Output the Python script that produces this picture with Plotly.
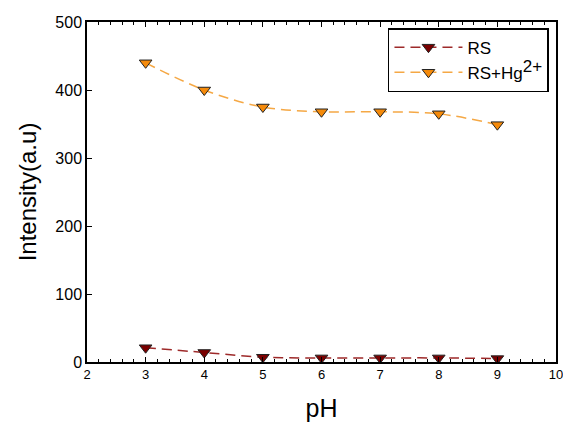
import plotly.graph_objects as go

ph = [3, 4, 5, 6, 7, 8, 9]
rs = [21, 14, 7, 6, 6, 6, 5]
rs_hg = [440, 400, 375, 368, 368, 365, 349]

x_ticks = [2, 3, 4, 5, 6, 7, 8, 9, 10]
y_ticks = [0, 100, 200, 300, 400, 500]

FONT = "Liberation Sans, Arial, sans-serif"

fig = go.Figure()
fig.add_trace(go.Scatter(
    x=ph, y=rs, name="RS", mode="lines+markers",
    line=dict(color="#9e2a2a", width=1.5, dash="10px,6px", shape="spline"),
    marker=dict(symbol="triangle-down", size=11, color="#7a0000",
                line=dict(color="#222222", width=1)),
))
fig.add_trace(go.Scatter(
    x=ph, y=rs_hg,
    name="RS+Hg<sup><span style='font-size:17px'>2+</span></sup>",
    mode="lines+markers",
    line=dict(color="#f5a845", width=1.5, dash="10px,6px", shape="spline"),
    marker=dict(symbol="triangle-down", size=11, color="#f58a0a",
                line=dict(color="#222222", width=1)),
))

fig.update_layout(
    width=563, height=429,
    margin=dict(l=87, r=7, t=22, b=67, autoexpand=False),
    paper_bgcolor="white", plot_bgcolor="white",
    font=dict(family=FONT, color="black"),
    showlegend=True,
    legend=dict(
        x=0.985, y=0.982, xanchor="right", yanchor="top",
        bordercolor="black", borderwidth=1.5, bgcolor="white",
        font=dict(size=17, family=FONT), itemwidth=68,
        tracegroupgap=6,
    ),
    xaxis=dict(
        range=[2, 10], tickvals=x_ticks, ticktext=[str(v) for v in x_ticks],
        showgrid=False, zeroline=False, automargin=False,
        ticklabeloverflow="allow",
        showline=True, linecolor="black", linewidth=1.5, mirror="ticks",
        ticks="inside", ticklen=5, tickcolor="black", tickwidth=1,
        tickfont=dict(size=13, family=FONT),
        minor=dict(dtick=0.2, ticks="inside", ticklen=3, tickcolor="black", tickwidth=1, showgrid=False),
        title=dict(text="pH", font=dict(size=25, family=FONT), standoff=18),
    ),
    yaxis=dict(
        range=[0, 500], tickvals=y_ticks, ticktext=[str(v) for v in y_ticks],
        showgrid=False, zeroline=False, automargin=False,
        ticklabeloverflow="allow",
        showline=True, linecolor="black", linewidth=1.5, mirror=True,
        ticks="inside", ticklen=5, tickcolor="black", tickwidth=1,
        tickfont=dict(size=16, family=FONT),
        title=dict(text="Intensity(a.u)", font=dict(size=24, family=FONT), standoff=12),
    ),
)

fig.write_html("out.html")
